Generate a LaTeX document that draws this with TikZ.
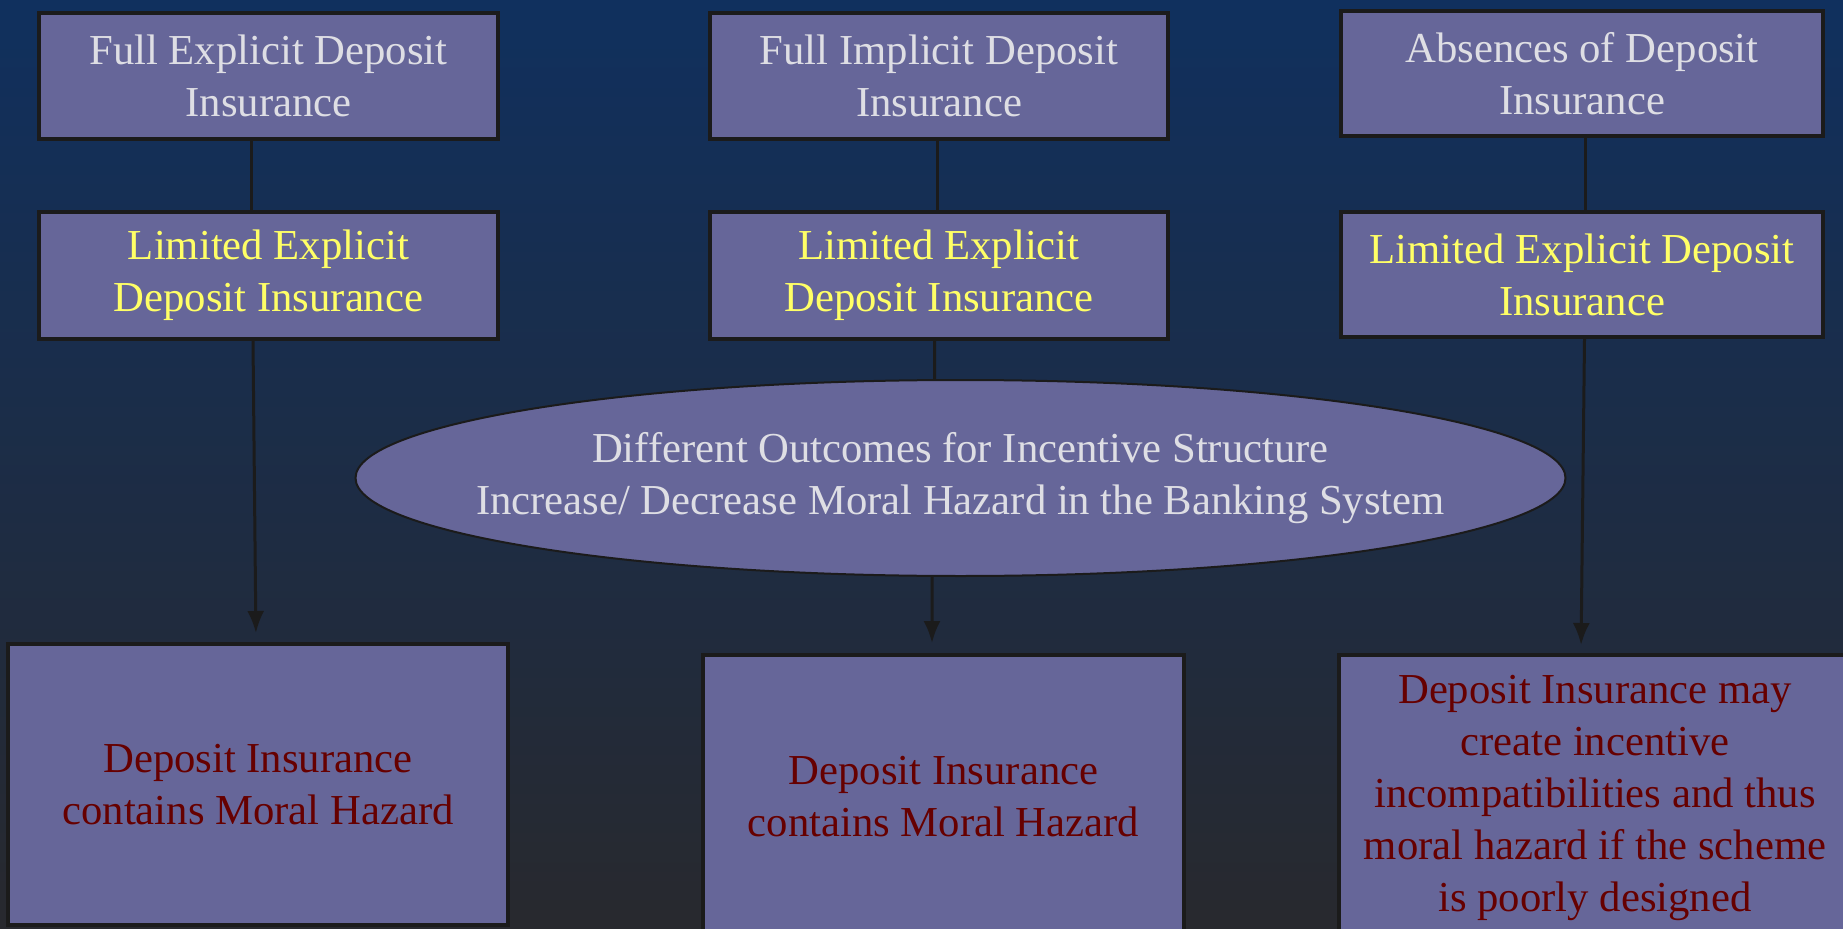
\documentclass[tikz,border=0pt]{standalone}
\usepackage{fontspec}
\setmainfont{Liberation Serif}
\usetikzlibrary{shapes.geometric,arrows.meta}
\definecolor{bgtop}{RGB}{16,48,94}
\definecolor{bgbot}{RGB}{40,41,46}
\definecolor{boxfill}{RGB}{102,102,153}
\definecolor{boxline}{RGB}{27,27,27}
\definecolor{lightgrey}{RGB}{222,222,228}
\definecolor{lemon}{RGB}{255,255,102}
\definecolor{darkred}{RGB}{102,0,0}
\begin{document}
\begin{tikzpicture}[x=0.1mm,y=-0.1mm,>={Latex[length=2.2mm,width=1.7mm]},
	box/.style={draw=boxline,line width=0.4mm,fill=boxfill,inner sep=0pt,align=center,
		font=\fontsize{12.15}{14.8}\selectfont},
	oval/.style={ellipse,draw=boxline,line width=0.2mm,fill=boxfill,inner xsep=-1cm,inner ysep=0pt,
		align=center,text=lightgrey,font=\fontsize{12.15}{14.8}\selectfont},
	link/.style={draw=boxline,line width=0.3mm}]
	% background
	\useasboundingbox (0,0) rectangle (1843,929);
	\shade[top color=bgtop,bottom color=bgbot] (0,0) rectangle (1843,929);
	% top row
	\node[box,text=lightgrey,minimum width=4.59cm,minimum height=1.26cm] (fullexp) at (268.5,76) {Full Explicit Deposit\\Insurance};
	\node[box,text=lightgrey,minimum width=4.58cm,minimum height=1.26cm] (fullimp) at (939,76) {Full Implicit Deposit\\Insurance};
	\node[box,text=lightgrey,minimum width=4.82cm,minimum height=1.25cm] (absence) at (1582,73.5) {Absences of Deposit\\Insurance};
	% second row
	\node[box,text=lemon,minimum width=4.59cm,minimum height=1.27cm] (limA) at (268.5,275.5) {Limited Explicit\\Deposit Insurance};
	\node[box,text=lemon,minimum width=4.58cm,minimum height=1.27cm] (limB) at (939,275.5) {Limited Explicit\\Deposit Insurance};
	\node[box,text=lemon,minimum width=4.82cm,minimum height=1.25cm] (limC) at (1582,274.5) {Limited Explicit Deposit\\Insurance};
	% outcome
	\node[oval,minimum width=12.1cm,minimum height=1.96cm] (outcome) at (960.5,478) {Different Outcomes for Incentive Structure\\Increase/ Decrease Moral Hazard in the Banking System};
	% bottom row
	\node[box,text=darkred,minimum width=5cm,minimum height=2.81cm] (hazA) at (258,784.5) {Deposit Insurance\\contains Moral Hazard};
	\node[box,text=darkred,minimum width=4.81cm,minimum height=2.84cm] (hazB) at (943.5,797) {Deposit Insurance\\contains Moral Hazard};
	\node[box,text=darkred,minimum width=5.12cm,minimum height=2.86cm] (hazC) at (1595,798) {Deposit Insurance may\\create incentive\\incompatibilities and thus\\moral hazard if the scheme\\is poorly designed};
	% connectors
	\draw[link] ([xshift=-1.7mm]fullexp.south) -- ([xshift=-1.7mm]limA.north);
	\draw[link] ([xshift=-0.2mm]fullimp.south) -- ([xshift=-0.2mm]limB.north);
	\draw[link] ([xshift=0.35mm]absence.south) -- ([xshift=0.35mm]limC.north);
	\draw[link] ([xshift=-0.45mm]limB.south) -- ([xshift=-2.6mm]outcome.north);
	\draw[link,->,shorten >=0.9mm] ([xshift=-1.55mm]limA.south) -- ([xshift=-0.2mm]hazA.north);
	\draw[link,->,shorten >=1mm] ([xshift=-2.85mm]outcome.south) -- ([xshift=-1.15mm]hazB.north);
	\draw[link,->,shorten >=0.8mm] ([xshift=0.25mm]limC.south) -- ([xshift=-1.4mm]hazC.north);
\end{tikzpicture}
\end{document}
